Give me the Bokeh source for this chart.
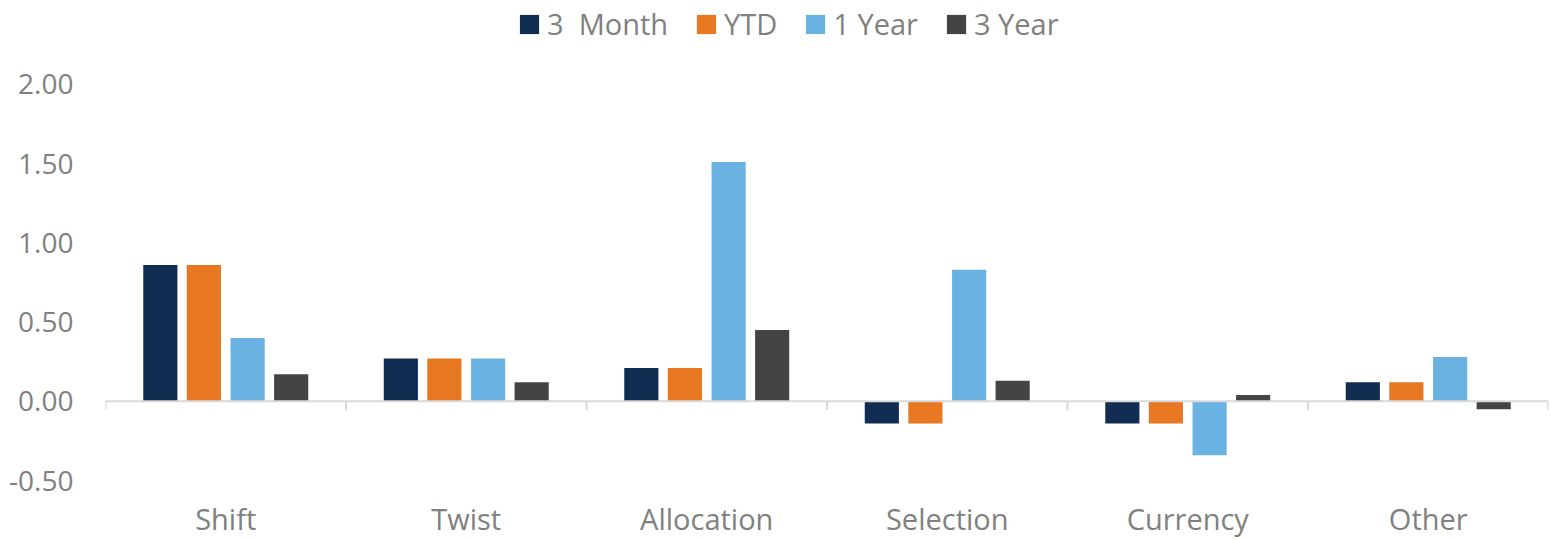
from bokeh.plotting import figure
from bokeh.models import (ColumnDataSource, FactorRange, Range1d, FixedTicker,
                          NumeralTickFormatter, Span, Legend, LegendItem)
from bokeh.transform import dodge
from bokeh.embed import file_html
from bokeh.resources import INLINE

categories = ["Shift", "Twist", "Allocation", "Selection", "Currency", "Other"]
series_names = ["3  Month", "YTD", "1 Year", "3 Year"]
three_month = [0.86, 0.27, 0.21, -0.14, -0.14, 0.12]
ytd = [0.86, 0.27, 0.21, -0.14, -0.14, 0.12]
one_year = [0.40, 0.27, 1.51, 0.83, -0.34, 0.28]
three_year = [0.17, 0.12, 0.45, 0.13, 0.04, -0.05]
y_ticks = [-0.5, 0.0, 0.5, 1.0, 1.5, 2.0]

colors = ["#112D52", "#E87722", "#6AB2E2", "#444444"]
offsets = [-0.272, -0.091, 0.091, 0.272]
FONT = "Open Sans"
TEXT = "#808080"

src = ColumnDataSource(dict(cat=categories, m3=three_month, ytd=ytd,
                            y1=one_year, y3=three_year))

# frame spans the full height; headroom above 2.00 holds the legend
p = figure(width=1554, height=540, output_backend="svg", toolbar_location=None,
           x_range=FactorRange(factors=categories, range_padding=0),
           y_range=Range1d(-0.5, 2.529),
           min_border_left=105, min_border_right=6, min_border_top=0,
           min_border_bottom=59)
p.outline_line_color = None
p.xgrid.grid_line_color = None
p.ygrid.grid_line_color = None
p.background_fill_color = "white"
p.border_fill_color = "white"

renderers = []
for col, c, off in zip(["m3", "ytd", "y1", "y3"], colors, offsets):
    r = p.vbar(x=dodge("cat", off, range=p.x_range), top=col, bottom=0,
               width=0.142, source=src, fill_color=c, line_color=None)
    renderers.append(r)

# zero line and category separators
p.add_layout(Span(location=0, dimension="width", line_color="#D9D9D9",
                  line_width=2))
sep = ColumnDataSource(dict(cat=categories))
p.segment(x0=dodge("cat", -0.5, range=p.x_range), x1=dodge("cat", -0.5, range=p.x_range),
          y0=0, y1=-0.055, source=sep, line_color="#D9D9D9", line_width=2)
sep_last = ColumnDataSource(dict(cat=[categories[-1]]))
p.segment(x0=dodge("cat", 0.4985, range=p.x_range), x1=dodge("cat", 0.4985, range=p.x_range),
          y0=0, y1=-0.055, source=sep_last, line_color="#D9D9D9", line_width=2)

# axes
p.yaxis.ticker = FixedTicker(ticks=y_ticks)
p.yaxis.formatter = NumeralTickFormatter(format="0.00")
p.yaxis.axis_line_color = None
p.yaxis.major_tick_line_color = None
p.yaxis.minor_tick_line_color = None
p.yaxis.major_tick_out = 0
p.yaxis.major_tick_in = 0
p.yaxis.major_label_standoff = 32
p.yaxis.major_label_text_font = FONT
p.yaxis.major_label_text_font_size = "28px"
p.yaxis.major_label_text_color = TEXT

p.xaxis.axis_line_color = None
p.xaxis.major_tick_line_color = None
p.xaxis.minor_tick_line_color = None
p.xaxis.major_tick_out = 0
p.xaxis.major_tick_in = 0
p.xaxis.major_label_standoff = 18
p.xaxis.major_label_text_font = FONT
p.xaxis.major_label_text_font_size = "29px"
p.xaxis.major_label_text_color = TEXT

legend = Legend(items=[LegendItem(label=n, renderers=[r]) for n, r in zip(series_names, renderers)],
                orientation="horizontal", location=(412, 437))
legend.label_text_font = FONT
legend.label_text_font_size = "29px"
legend.label_text_color = TEXT
legend.glyph_width = 24
legend.glyph_height = 24
legend.label_standoff = 6
legend.spacing = 26
legend.padding = 0
legend.margin = 0
legend.border_line_color = None
legend.background_fill_alpha = 0
p.add_layout(legend, "center")

open("out.html", "w").write(file_html(p, INLINE))
